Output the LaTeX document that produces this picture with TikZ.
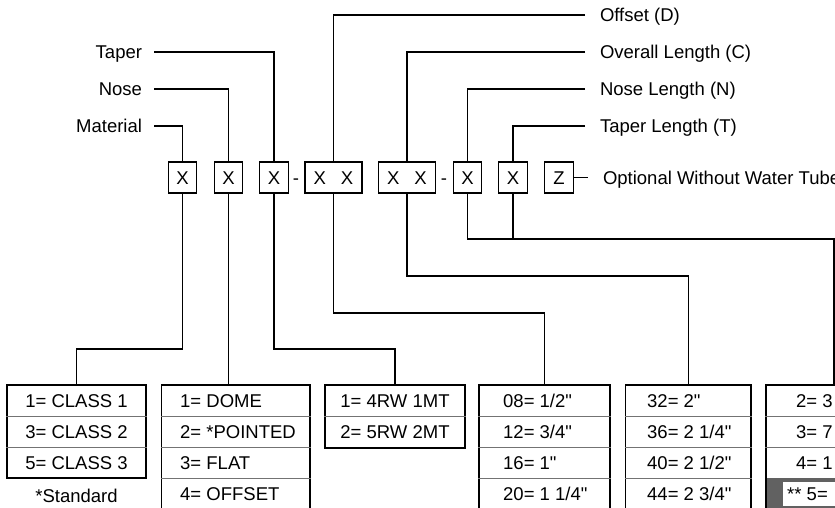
\documentclass[tikz,border=0pt]{standalone}
\usepackage{fontspec}
\setmainfont{Liberation Sans}[Ligatures=TeXOff]
\tikzset{every picture/.style={x=1pt,y=-1pt}}
\tikzset{txt/.style={inner sep=0pt,text height=13.2pt,text depth=0pt}}
\tikzset{lbl/.style={txt,anchor=east,outer xsep=12pt}}
\tikzset{rlbl/.style={txt,anchor=west,outer xsep=15pt}}
\tikzset{digit/.style={txt,draw,line width=1.3pt,minimum width=28.5pt,minimum height=31pt}}
\tikzset{wide/.style={digit,minimum width=57pt}}
\tikzset{wire/.style={line width=1.3pt}}
\tikzset{tbl/.style={draw,line width=1.3pt,inner sep=0pt}}
\tikzset{sep/.style={line width=0.7pt,black!55}}

\begin{document}
\begin{tikzpicture}[font=\fontsize{18.5}{22}\selectfont]
\useasboundingbox (0,0) rectangle (835,508);

\node [digit] (b1) at (182.5,177.5) {X};
\node [digit] (b2) at (228.5,177.5) {X};
\node [digit] (b3) at (274,177.5) {X};
\node [txt] (d1) at (296,178) {-};
\node [wide] (b4) at (333.5,177.5) {X\hspace{15pt}X};
\node [wide] (b5) at (407,177.5) {X\hspace{15pt}X};
\node [txt] (d2) at (444,178) {-};
\node [digit] (b6) at (467.5,177.5) {X};
\node [digit] (b7) at (513,177.5) {X};
\node [digit] (bz) at (559,177.5) {Z};

\node [lbl] (taper) at (154,52) {Taper};
\node [lbl] (nose) at (154,89) {Nose};
\node [lbl] (material) at (154,126) {Material};

\node [rlbl] (offset) at (585,15) {Offset (D)};
\node [rlbl] (overall) at (585,52) {Overall Length (C)};
\node [rlbl] (noselen) at (585,89) {Nose Length (N)};
\node [rlbl] (taperlen) at (585,126) {Taper Length (T)};
\node [rlbl] (opt) at (588,177.5) {Optional Without Water Tube};

\draw [wire] (taper) -| (b3);
\draw [wire] (nose) -| (b2);
\draw [wire] (material) -| (b1);
\draw [wire] (offset) -| (b4);
\draw [wire] (overall) -| (b5);
\draw [wire] (noselen) -| (b6);
\draw [wire] (taperlen) -| (b7);
\draw [wire] (bz) -- (opt);

\fill [black!62] (766,478) rectangle (902,512);
\fill [white] (783,482) rectangle (902,506);

\node [tbl,minimum width=139pt,minimum height=93pt] (t1) at (76.5,431.5) {};
\node [tbl,minimum width=148.5pt,minimum height=126pt] (t2) at (235.75,448) {};
\node [tbl,minimum width=140pt,minimum height=63pt] (t3) at (395,416.5) {};
\node [tbl,minimum width=131pt,minimum height=126pt] (t4) at (544.5,448) {};
\node [tbl,minimum width=125.5pt,minimum height=126pt] (t5) at (688.25,448) {};
\node [tbl,minimum width=136pt,minimum height=126pt] (t6) at (834,448) {};

\draw [sep] (t1.west |- 0,416) -- (t1.east |- 0,416);
\draw [sep] (t1.west |- 0,447) -- (t1.east |- 0,447);

\draw [sep] (t2.west |- 0,416) -- (t2.east |- 0,416);
\draw [sep] (t2.west |- 0,447) -- (t2.east |- 0,447);
\draw [sep] (t2.west |- 0,478) -- (t2.east |- 0,478);

\draw [sep] (t3.west |- 0,416) -- (t3.east |- 0,416);

\draw [sep] (t4.west |- 0,416) -- (t4.east |- 0,416);
\draw [sep] (t4.west |- 0,447) -- (t4.east |- 0,447);
\draw [sep] (t4.west |- 0,478) -- (t4.east |- 0,478);

\draw [sep] (t5.west |- 0,416) -- (t5.east |- 0,416);
\draw [sep] (t5.west |- 0,447) -- (t5.east |- 0,447);
\draw [sep] (t5.west |- 0,478) -- (t5.east |- 0,478);

\draw [sep] (t6.west |- 0,416) -- (t6.east |- 0,416);
\draw [sep] (t6.west |- 0,447) -- (t6.east |- 0,447);

\node [txt] (c1) at (76.5,400.5) {1= CLASS 1};
\node [txt] (c2) at (76.5,431.5) {3= CLASS 2};
\node [txt] (c3) at (76.5,462.5) {5= CLASS 3};
\node [txt] (std) at (76.5,496) {*Standard};

\node [txt,anchor=west] (n1) at (180,400.5) {1= DOME};
\node [txt,anchor=west] (n2) at (180,431.5) {2= *POINTED};
\node [txt,anchor=west] (n3) at (180,462.5) {3= FLAT};
\node [txt,anchor=west] (n4) at (180,493.5) {4= OFFSET};

\node [txt] (r1) at (395,400.5) {1= 4RW 1MT};
\node [txt] (r2) at (395,432) {2= 5RW 2MT};

\node [txt,anchor=west] (o1) at (503,400.5) {08= 1/2"};
\node [txt,anchor=west] (o2) at (503,431.5) {12= 3/4"};
\node [txt,anchor=west] (o3) at (503,462.5) {16= 1"};
\node [txt,anchor=west] (o4) at (503,493.5) {20= 1 1/4"};

\node [txt,anchor=west] (l1) at (647,400.5) {32= 2"};
\node [txt,anchor=west] (l2) at (647,431.5) {36= 2 1/4"};
\node [txt,anchor=west] (l3) at (647,462.5) {40= 2 1/2"};
\node [txt,anchor=west] (l4) at (647,493.5) {44= 2 3/4"};

\node [txt,anchor=west] (s1) at (796,400.5) {2= 3};
\node [txt,anchor=west] (s2) at (796,431.5) {3= 7};
\node [txt,anchor=west] (s3) at (796,462.5) {4= 1};
\node [txt,anchor=west] (s4) at (787,493.5) {** 5=};

\coordinate (j1) at (76.5,349);
\coordinate (j3) at (395,349);
\coordinate (j4) at (544.5,313);
\coordinate (j5) at (688.25,276);
\coordinate (j6) at (834,239);

\draw [wire] (b1) |- (j1) -- (t1);
\draw [wire] (b2.south) -- (b2.south |- t2.north);
\draw [wire] (b3) |- (j3) -- (t3);
\draw [wire] (b4) |- (j4) -- (t4);
\draw [wire] (b5) |- (j5) -- (t5);
\draw [wire] (b6) |- (j6) -- (t6);
\draw [wire] (b7.south) -- (b7.south |- j6);
\end{tikzpicture}
\end{document}
